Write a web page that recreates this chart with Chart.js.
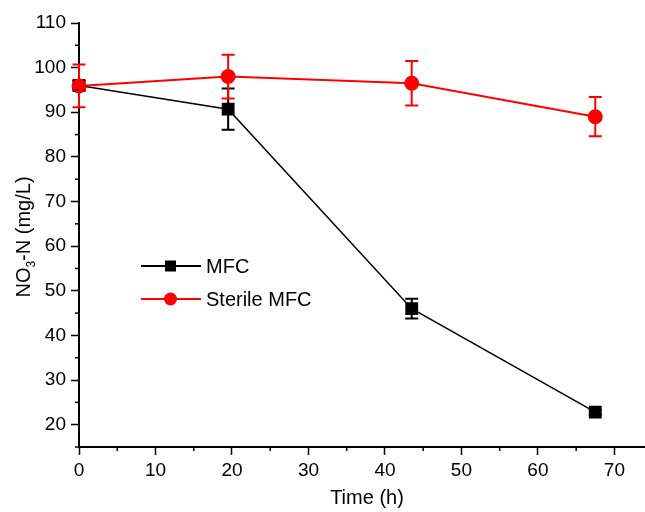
<!DOCTYPE html>
<html><head><meta charset="utf-8">
<script src="https://cdn.jsdelivr.net/npm/chart.js@4/dist/chart.umd.min.js"></script>
<style>html,body{margin:0;padding:0;background:#fff}#wrap{width:645px;height:512px}</style>
</head><body><div id="wrap"><canvas id="c" width="645" height="512"></canvas></div>
<script>
const timeH = [0, 19.5, 43.5, 67.5];
const mfc = [96.0, 90.7, 46.0, 22.8];
const mfcErr = [1.0, 4.6, 2.2, 0.5];
const sterile = [95.9, 98.0, 96.5, 89.0];
const sterileErr = [4.8, 4.9, 5.0, 4.4];
const xTicks = [0, 10, 20, 30, 40, 50, 60, 70];
const yTicks = [20, 30, 40, 50, 60, 70, 80, 90, 100, 110];
const seriesNames = ['MFC', 'Sterile MFC'];
const xTitle = 'Time (h)';

const FONT = '"Liberation Sans", Arial, Helvetica, sans-serif';
const errs = [mfcErr, sterileErr];

const errorBars = {
  id: 'errorBars',
  beforeDatasetDraw(chart, args) {
    const i = args.index;
    const meta = args.meta;
    const ys = chart.scales.y;
    const ds = chart.data.datasets[i];
    const ctx = chart.ctx;
    ctx.save();
    ctx.strokeStyle = ds.borderColor;
    ctx.lineWidth = 2;
    meta.data.forEach((pt, j) => {
      const v = ds.data[j].y, e = errs[i][j];
      const top = ys.getPixelForValue(v + e), bot = ys.getPixelForValue(v - e);
      const x = pt.x, cw = 6.5;
      ctx.beginPath();
      ctx.moveTo(x, top); ctx.lineTo(x, bot);
      ctx.moveTo(x - cw, top); ctx.lineTo(x + cw, top);
      ctx.moveTo(x - cw, bot); ctx.lineTo(x + cw, bot);
      ctx.stroke();
    });
    ctx.restore();
  }
};

const extras = {
  id: 'extras',
  afterDraw(chart) {
    const ctx = chart.ctx;
    const xs = chart.scales.x, ys = chart.scales.y;
    const ca = chart.chartArea;
    ctx.save();
    ctx.strokeStyle = '#000';
    ctx.lineWidth = 1.5;
    // minor ticks
    for (let v = 5; v < 74; v += 10) {
      const px = xs.getPixelForValue(v);
      ctx.beginPath(); ctx.moveTo(px, ca.bottom); ctx.lineTo(px, ca.bottom + 4); ctx.stroke();
    }
    for (let v = 15; v < 110; v += 10) {
      const py = ys.getPixelForValue(v);
      ctx.beginPath(); ctx.moveTo(ca.left, py); ctx.lineTo(ca.left - 4, py); ctx.stroke();
    }
    // axis titles
    ctx.fillStyle = '#000';
    ctx.font = '20px ' + FONT;
    ctx.textAlign = 'center';
    ctx.textBaseline = 'middle';
    ctx.fillText(xTitle, 367, 498);
    // y title with subscript
    ctx.translate(23, 237);
    ctx.rotate(-Math.PI / 2);
    const p1 = 'NO', p2 = '3', p3 = '-N (mg/L)';
    ctx.font = '20px ' + FONT;
    const w1 = ctx.measureText(p1).width, w3 = ctx.measureText(p3).width;
    ctx.font = '12px ' + FONT;
    const w2 = ctx.measureText(p2).width;
    const total = w1 + w2 + w3;
    let x0 = -total / 2;
    ctx.textAlign = 'left';
    ctx.textBaseline = 'alphabetic';
    ctx.font = '20px ' + FONT;
    ctx.fillText(p1, x0, 7);
    ctx.font = '12px ' + FONT;
    ctx.fillText(p2, x0 + w1, 12);
    ctx.font = '20px ' + FONT;
    ctx.fillText(p3, x0 + w1 + w2, 7);
    ctx.setTransform(1, 0, 0, 1, 0, 0);
    // legend
    const items = [
      { name: seriesNames[0], color: '#000', style: 'rect', y: 266, lw: 2 },
      { name: seriesNames[1], color: '#f00', style: 'circle', y: 299, lw: 2 }
    ];
    items.forEach(it => {
      ctx.strokeStyle = it.color; ctx.fillStyle = it.color; ctx.lineWidth = it.lw;
      ctx.beginPath(); ctx.moveTo(141, it.y); ctx.lineTo(201, it.y); ctx.stroke();
      if (it.style === 'rect') { ctx.fillRect(165, it.y - 5.5, 11, 11); }
      else { ctx.beginPath(); ctx.arc(170.5, it.y, 6.5, 0, Math.PI * 2); ctx.fill(); }
      ctx.fillStyle = '#000';
      ctx.font = '20px ' + FONT;
      ctx.textAlign = 'left'; ctx.textBaseline = 'middle';
      ctx.fillText(it.name, 206, it.y + 1);
    });
    ctx.restore();
  }
};

new Chart(document.getElementById('c'), {
  type: 'line',
  data: {
    datasets: [
      {
        label: seriesNames[0],
        data: timeH.map((t, i) => ({ x: t, y: mfc[i] })),
        borderColor: '#000', backgroundColor: '#000',
        borderWidth: 1.5, pointStyle: 'rect', pointRadius: 8, pointHoverRadius: 8,
        tension: 0, order: 1, clip: false
      },
      {
        label: seriesNames[1],
        data: timeH.map((t, i) => ({ x: t, y: sterile[i] })),
        borderColor: '#f00', backgroundColor: '#f00',
        borderWidth: 2, pointStyle: 'circle', pointRadius: 6.5, pointHoverRadius: 6.5,
        tension: 0, order: 0, clip: false
      }
    ]
  },
  options: {
    responsive: false,
    animation: false,
    devicePixelRatio: 1,
    layout: { autoPadding: false, padding: { top: 23, right: 0, left: 0, bottom: 0 } },
    plugins: { legend: { display: false }, tooltip: { enabled: false } },
    scales: {
      x: {
        type: 'linear', min: 0, max: 74,
        afterFit(s) { s.height = 65; s.paddingLeft = 0; s.paddingRight = 0; },
        afterBuildTicks(s) { s.ticks = xTicks.map(v => ({ value: v })); },
        ticks: { color: '#000', font: { size: 19, family: FONT }, padding: 4, maxRotation: 0, autoSkip: false },
        grid: { drawOnChartArea: false, drawTicks: true, tickLength: 8, tickColor: '#000', tickWidth: 1.5 },
        border: { display: true, color: '#000', width: 2 }
      },
      y: {
        type: 'linear', min: 15, max: 110,
        afterFit(s) { s.width = 79; s.paddingTop = 0; s.paddingBottom = 0; },
        afterBuildTicks(s) { s.ticks = yTicks.map(v => ({ value: v })); },
        ticks: { color: '#000', font: { size: 19, family: FONT }, padding: 5, autoSkip: false },
        grid: { drawOnChartArea: false, drawTicks: true, tickLength: 8, tickColor: '#000', tickWidth: 1.5 },
        border: { display: true, color: '#000', width: 2 }
      }
    }
  },
  plugins: [errorBars, extras]
});
</script></body></html>
